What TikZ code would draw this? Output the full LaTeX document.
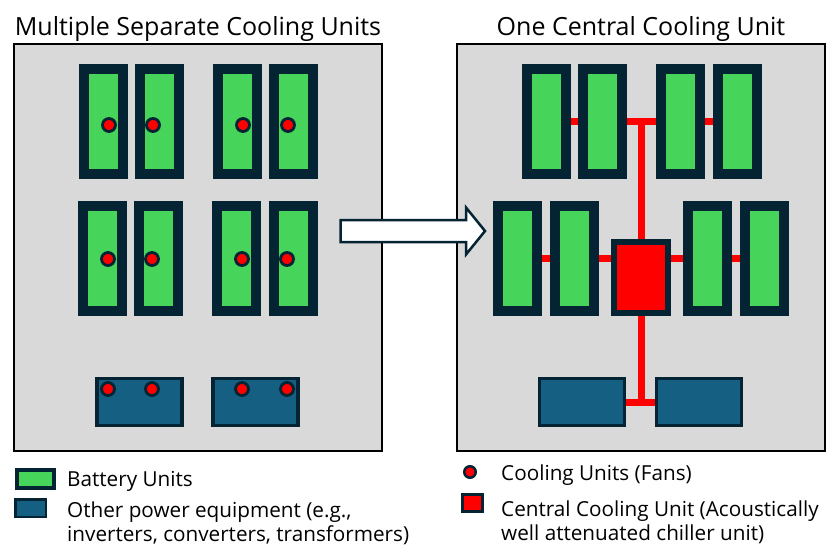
\documentclass[tikz,border=0pt]{standalone}
\usepackage{fontspec}
\setmainfont{Open Sans}
\usetikzlibrary{calc}

\definecolor{panelgray}{HTML}{D9D9D9}
\definecolor{battgreen}{HTML}{47D45A}
\definecolor{darknavy}{HTML}{042433}
\definecolor{equipblue}{HTML}{156082}

\tikzset{
    panel/.style={rectangle,draw=black,fill=panelgray,line width=2pt,minimum width=368pt,minimum height=407pt,inner sep=0pt},
    battery/.style={rectangle,draw=darknavy,fill=battgreen,line width=10pt,minimum width=39pt,minimum height=105pt,inner sep=0pt},
    equip/.style={rectangle,draw=darknavy,fill=equipblue,line width=3.3pt,minimum width=85pt,minimum height=47pt,inner sep=0pt},
    fan/.style={circle,draw=darknavy,fill=red,line width=2.8pt,minimum size=13pt,inner sep=0pt},
    central/.style={rectangle,draw=darknavy,fill=red,line width=6pt,minimum width=54pt,minimum height=71pt,inner sep=0pt},
    pipe/.style={draw=red,line width=7pt},
    bigarrow/.style={draw=darknavy,fill=white,line width=2.5pt,line join=miter},
    title/.style={font=\fontsize{25}{30}\selectfont,anchor=base},
    legtext/.style={font=\fontsize{20.7}{24.5}\selectfont,anchor=base west,align=left,inner sep=0pt}
}

\begin{document}
\begin{tikzpicture}[x=1pt,y=-1pt]
        \useasboundingbox (0,0) rectangle (826,547);

        % panels and titles
        \node[panel] (LP) at (198,247) {};
        \node[panel] (RP) at (641,247) {};
        \node[title] (LT) at (198,35) {Multiple Separate Cooling Units};
        \node[title] (RT) at (641,35) {One Central Cooling Unit};

        % separate cooling units
        \node[battery] (L1) at (103.5,121.5) {};
        \node[battery] (L2) at (159.5,121.5) {};
        \node[battery] (L3) at (237.5,121.5) {};
        \node[battery] (L4) at (293.5,121.5) {};
        \node[battery] (L5) at (102.5,258) {};
        \node[battery] (L6) at (158.5,258) {};
        \node[battery] (L7) at (236.5,258) {};
        \node[battery] (L8) at (293,258) {};
        \node[equip] (LE1) at (139.5,402) {};
        \node[equip] (LE2) at (255.5,402) {};

        \node[fan] (F1) at (109,125) {};
        \node[fan] (F2) at (153,125) {};
        \node[fan] (F3) at (243,125) {};
        \node[fan] (F4) at (288,125) {};
        \node[fan] (F5) at (108,259) {};
        \node[fan] (F6) at (152,259) {};
        \node[fan] (F7) at (242,259) {};
        \node[fan] (F8) at (287,259) {};
        \node[fan] (F9) at (108,389) {};
        \node[fan] (F10) at (152,389) {};
        \node[fan] (F11) at (242,389) {};
        \node[fan] (F12) at (287,389) {};

        \draw[bigarrow] (340.5,220) -- (466,220) -- (466,207.5) -- (485,231)
            -- (466,254.5) -- (466,242) -- (340.5,242) -- cycle;

        % central cooling unit
        \node[battery] (R1) at (546,121.5) {};
        \node[battery] (R2) at (602.5,121.5) {};
        \node[battery] (R3) at (680.5,121.5) {};
        \node[battery] (R4) at (737.5,121.5) {};
        \node[battery] (R5) at (517.5,258) {};
        \node[battery] (R6) at (574.5,258) {};
        \node[battery] (R7) at (707.5,258) {};
        \node[battery] (R8) at (764,258) {};
        \node[central] (CC) at (641,277.5) {};
        \node[equip] (RE1) at (582,402) {};
        \node[equip] (RE2) at (699,402) {};

        \draw[pipe] (R1.east) -- (R2.west);
        \draw[pipe] (R2.east) -- (R3.west);
        \draw[pipe] (R3.east) -- (R4.west);
        \draw[pipe] (CC.north |- R2.east) -- (CC.north);
        \draw[pipe] (R5.east) -- (R6.west);
        \draw[pipe] (R6.east) -- (R6.east -| CC.west);
        \draw[pipe] (R7.west -| CC.east) -- (R7.west);
        \draw[pipe] (R7.east) -- (R8.west);
        \draw[pipe] (CC.south) -- (CC.south |- RE1.east);
        \draw[pipe] (RE1.east) -- (RE2.west);

        % legend
        \node[rectangle,draw=darknavy,fill=battgreen,line width=4pt,minimum width=37pt,minimum height=18pt,inner sep=0pt] (KB) at (35.5,479) {};
        \node[rectangle,draw=darknavy,fill=equipblue,line width=2.5pt,minimum width=30.5pt,minimum height=17.5pt,inner sep=0pt] (KE) at (30.5,508) {};
        \node[fan,line width=2.5pt,minimum size=11.5pt] (KF) at (470,472) {};
        \node[central,line width=3pt,minimum width=20pt,minimum height=17pt] (KC) at (472.5,503) {};

        \node[legtext] (KBt) at (67,486.7) {Battery Units};
        \node[legtext] (KEt) at (67,541.5) {Other power equipment (e.g.,\\inverters, converters, transformers)};
        \node[legtext] (KFt) at (501,480) {Cooling Units (Fans)};
        \node[legtext] (KCt) at (501,540.5) {Central Cooling Unit (Acoustically\\well attenuated chiller unit)};

    \end{tikzpicture}
\end{document}
